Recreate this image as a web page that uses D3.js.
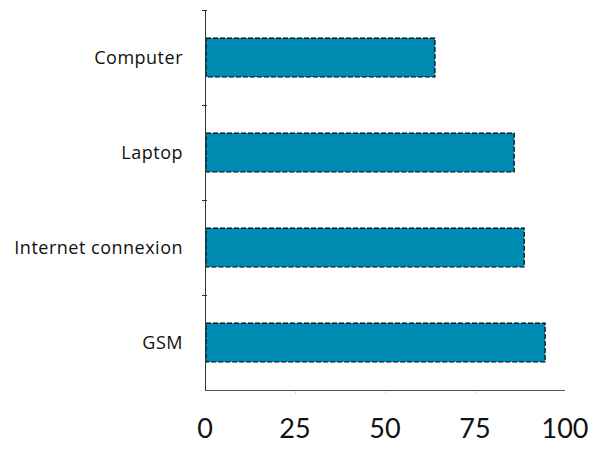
<!DOCTYPE html>
<html>
<head>
<meta charset="utf-8">
<script src="https://cdn.jsdelivr.net/npm/d3@7"></script>
<style>
  body { margin: 0; background: #fff; }
  text { font-family: "Open Sans", "Lato", sans-serif; fill: #111; }
</style>
</head>
<body>
<div class="chart"></div>
<script>
// chart data
var categories = ["Computer", "Laptop", "Internet connexion", "GSM"];
var values = [63.6, 85.6, 88.4, 94.2];
var xTicks = [0, 25, 50, 75, 100];

var svgWidth = 592;
var svgHeight = 449;

var margin = { top: 10, right: 27, bottom: 59, left: 205 };
var width = svgWidth - margin.left - margin.right;
var height = svgHeight - margin.top - margin.bottom;

var svg = d3
  .select(".chart")
  .append("svg")
  .attr("width", svgWidth)
  .attr("height", svgHeight);

var chartGroup = svg
  .append("g")
  .attr("transform", `translate(${margin.left}, ${margin.top})`);

var xScale = d3.scaleLinear().domain([0, 100]).range([0, width]);
var yScale = d3
  .scaleBand()
  .domain(categories)
  .range([0, height])
  .paddingInner(0.59)
  .paddingOuter(0.295);

// bars
chartGroup
  .selectAll("rect.bar")
  .data(values)
  .enter()
  .append("rect")
  .attr("class", "bar")
  .attr("x", xScale(0) + 1)
  .attr("y", (d, i) => yScale(categories[i]))
  .attr("width", (d) => xScale(d) - xScale(0))
  .attr("height", yScale.bandwidth())
  .attr("fill", "#008bb2")
  .attr("stroke", "#000")
  .attr("stroke-width", 1.2)
  .attr("stroke-dasharray", "5,2");

// y axis: line plus ticks at band boundaries
var yAxisG = chartGroup.append("g");
yAxisG
  .append("line")
  .attr("x1", 0.5)
  .attr("x2", 0.5)
  .attr("y1", 0)
  .attr("y2", height)
  .attr("stroke", "#333");
var step = yScale.step();
var bounds = [0, 1, 2, 3].map((i) => i * step);
yAxisG
  .selectAll("line.tick")
  .data(bounds)
  .enter()
  .append("line")
  .attr("class", "tick")
  .attr("x1", -3)
  .attr("x2", 2)
  .attr("y1", (d) => Math.round(d) + 0.5)
  .attr("y2", (d) => Math.round(d) + 0.5)
  .attr("stroke", "#333");

// category labels
chartGroup
  .selectAll("text.cat")
  .data(categories)
  .enter()
  .append("text")
  .attr("class", "cat")
  .attr("x", -22)
  .attr("y", (d) => yScale(d) + yScale.bandwidth() / 2)
  .attr("dy", "0.35em")
  .attr("text-anchor", "end")
  .style("font-size", "18px")
  .style("letter-spacing", "0.5px")
  .text((d) => d);

// x axis
var xAxisG = chartGroup.append("g").attr("transform", `translate(0, ${height})`);
xAxisG
  .append("line")
  .attr("x1", 0)
  .attr("x2", width)
  .attr("y1", 0.5)
  .attr("y2", 0.5)
  .attr("stroke", "#555");
xAxisG
  .selectAll("line.tick")
  .data(xTicks.slice(1, 4))
  .enter()
  .append("line")
  .attr("class", "tick")
  .attr("x1", (d) => Math.round(xScale(d)) + 0.5)
  .attr("x2", (d) => Math.round(xScale(d)) + 0.5)
  .attr("y1", 1)
  .attr("y2", 4)
  .attr("stroke", "#ddd");
xAxisG
  .selectAll("text")
  .data(xTicks)
  .enter()
  .append("text")
  .attr("x", (d) => xScale(d))
  .attr("y", 39)
  .attr("dy", "0.35em")
  .attr("text-anchor", "middle")
  .style("font-family", "Lato, sans-serif")
  .style("font-size", "27px")
  .text((d) => d);
</script>
</body>
</html>
